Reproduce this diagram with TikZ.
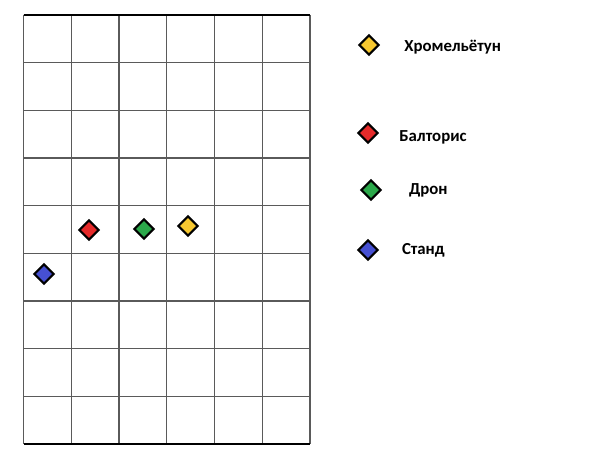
\documentclass[tikz,border=0pt]{standalone}
\usepackage{fontspec}
\setmainfont{Carlito}
\usepackage{xcolor}
\usetikzlibrary{shapes.geometric,positioning}
\definecolor{gemyellow}{HTML}{F7C830}
\definecolor{gemred}{HTML}{E52A2A}
\definecolor{gemgreen}{HTML}{2BA84A}
\definecolor{gemblue}{HTML}{4650D2}
\definecolor{gridgray}{HTML}{5A5A5A}

\begin{document}
\begin{tikzpicture}[x=0.75pt,y=-0.75pt,node distance=18pt,
  gem/.style={diamond,draw=black,line width=1.6pt,inner sep=0pt,minimum width=15pt,minimum height=15pt},
  label/.style={inner sep=0pt,anchor=west,font=\fontsize{12.6}{14}\selectfont\bfseries}]
\useasboundingbox (0,0) rectangle (600,460);

% board
\foreach \i in {0,...,6}
  \draw[gridgray,line width=1.1pt] (23.5+47.75*\i,15) -- (23.5+47.75*\i,444);
\foreach \j in {0,...,9}
  \draw[gridgray,line width=1.1pt] (23.5,15+47.67*\j) -- (310,15+47.67*\j);
\draw[black,line width=1.1pt] (23.5,15) -- (310,15);
\draw[black,line width=1.1pt] (23.5,444) -- (310,444);

% pieces on the board
\node[gem,fill=gemred] (baltoris) at (89,230) {};
\node[gem,fill=gemgreen] (dron) at (144,229) {};
\node[gem,fill=gemyellow] (hromel) at (188,226) {};
\node[gem,fill=gemblue] (stand) at (44,274) {};

% legend
\node[gem,fill=gemyellow] (keyhromel) at (369,45) {};
\node[gem,fill=gemred] (keybaltoris) at (368,133) {};
\node[gem,fill=gemgreen] (keydron) at (371,190) {};
\node[gem,fill=gemblue] (keystand) at (368,250) {};

\node[label,right=18pt of keyhromel,yshift=-1.5pt] (txthromel) {Хромельётун};
\node[label,right=15pt of keybaltoris,yshift=-3pt] (txtbaltoris) {Балторис};
\node[label,right=20pt of keydron] (txtdron) {Дрон};
\node[label,right=17pt of keystand] (txtstand) {Станд};
\end{tikzpicture}
\end{document}
